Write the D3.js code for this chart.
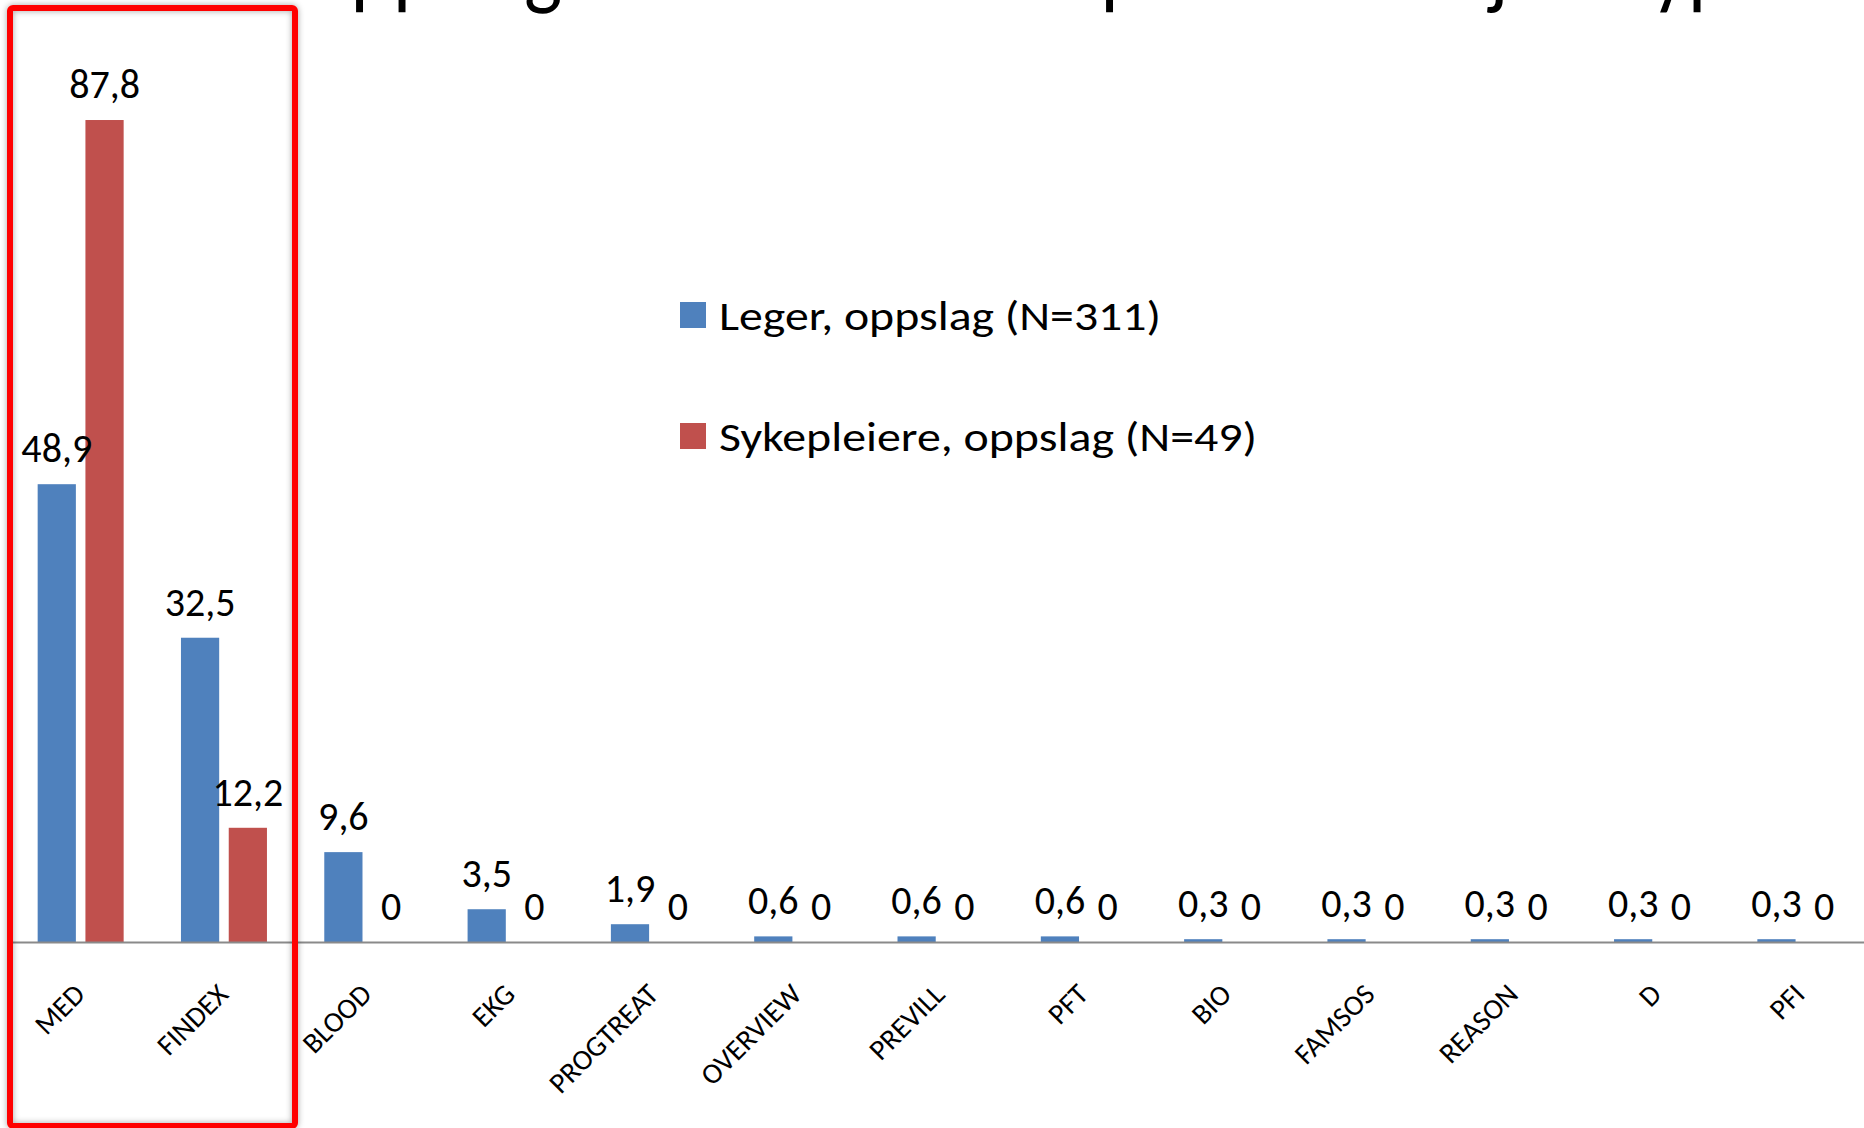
<!DOCTYPE html>
<html>
<head>
<meta charset="utf-8">
<script src="https://cdn.jsdelivr.net/npm/d3@7"></script>
<style>
  html, body { margin: 0; padding: 0; background: #ffffff; }
  svg { display: block; }
  text { font-family: Carlito, Lato, "Open Sans", sans-serif; fill: #000; }
</style>
</head>
<body>
<svg id="chart" width="1864" height="1128"></svg>
<script>
const titleText = "Oppslag i kurven fordelt på informasjonstyper";
const categories = ["MED", "FINDEX", "BLOOD", "EKG", "PROGTREAT", "OVERVIEW", "PREVILL", "PFT", "BIO", "FAMSOS", "REASON", "D", "PFI"];
const seriesNames = ["Leger, oppslag (N=311)", "Sykepleiere, oppslag (N=49)"];
const legerValues = [48.9, 32.5, 9.6, 3.5, 1.9, 0.6, 0.6, 0.6, 0.3, 0.3, 0.3, 0.3, 0.3];
const sykepleiereValues = [87.8, 12.2, 0, 0, 0, 0, 0, 0, 0, 0, 0, 0, 0];
const seriesColors = ["#4F81BD", "#C0504D"];

const svg = d3.select("#chart");
const W = 1864, H = 1128;
svg.append("rect").attr("width", W).attr("height", H).attr("fill", "#fff");

// shadow filter for red highlight frame
const defs = svg.append("defs");
const f = defs.append("filter").attr("id", "shadow").attr("x", "-10%").attr("y", "-10%").attr("width", "120%").attr("height", "120%");
f.append("feGaussianBlur").attr("in", "SourceAlpha").attr("stdDeviation", 3).attr("result", "b");
f.append("feFlood").attr("flood-color", "#000").attr("flood-opacity", 0.35).attr("result", "c");
f.append("feComposite").attr("in", "c").attr("in2", "b").attr("operator", "in").attr("result", "s");
const fm = f.append("feMerge");
fm.append("feMergeNode").attr("in", "s");
fm.append("feMergeNode").attr("in", "SourceGraphic");

// Title (cut off at top, as in the original slide)
svg.append("text")
  .attr("x", 297).attr("y", -3)
  .attr("font-size", 92)
  .attr("textLength", 1502).attr("lengthAdjust", "spacingAndGlyphs")
  .text(titleText);

const baseY = 942;
const x0 = d3.scaleBand().domain(categories).range([9, 1872]).paddingInner(0.4).paddingOuter(0.2);
const x1 = d3.scaleBand().domain([0, 1]).range([0, x0.bandwidth()]).paddingInner(0.2);
const y = d3.scaleLinear().domain([0, 100]).range([baseY, baseY - 936.2]);

const data = categories.map((c, i) => ({ cat: c, vals: [legerValues[i], sykepleiereValues[i]] }));

const fmt = v => v === 0 ? "0" : d3.format(".1f")(v).replace(".", ",");

const groups = svg.append("g").selectAll("g").data(data).join("g")
  .attr("transform", d => `translate(${x0(d.cat)},0)`);

groups.selectAll("rect").data(d => d.vals.map((v, s) => ({ v, s }))).join("rect")
  .attr("x", d => x1(d.s))
  .attr("width", x1.bandwidth())
  .attr("y", d => y(d.v))
  .attr("height", d => baseY - y(d.v))
  .attr("fill", d => seriesColors[d.s]);

// Axis
const axis = svg.append("g").attr("transform", `translate(0,${baseY})`)
  .call(d3.axisBottom(x0).tickSize(0).tickSizeOuter(0));
axis.select(".domain").attr("stroke", "#8a8a8a").attr("stroke-width", 2);
axis.selectAll(".tick text")
  .attr("x", 0).attr("y", 0).attr("dy", null)
  .attr("text-anchor", "end")
  .attr("transform", "translate(6,54) rotate(-45)")
  .attr("font-size", 29)
  .attr("font-family", "Carlito, Lato, sans-serif")
  .attr("fill", "#000");

// Data labels
groups.selectAll("text.val").data(d => d.vals.map((v, s) => ({ v, s }))).join("text")
  .attr("class", "val")
  .attr("x", d => x1(d.s) + x1.bandwidth() / 2)
  .attr("y", d => y(d.v) - 22)
  .attr("text-anchor", "middle")
  .attr("font-size", 40)
  .text(d => fmt(d.v));

// Legend
const legend = svg.append("g");
const legendY = [315, 436];
seriesNames.forEach((name, i) => {
  legend.append("rect").attr("x", 680).attr("y", legendY[i] - 13).attr("width", 26).attr("height", 26).attr("fill", seriesColors[i]);
  legend.append("text").attr("x", 719).attr("y", legendY[i] + 15)
    .attr("font-size", 42)
    .attr("textLength", i === 0 ? 442 : 538).attr("lengthAdjust", "spacingAndGlyphs")
    .text(name);
});

// Red highlight frame
svg.append("rect")
  .attr("x", 10).attr("y", 8).attr("width", 285).attr("height", 1118)
  .attr("rx", 3)
  .attr("fill", "none").attr("stroke", "#ff0000").attr("stroke-width", 6)
  .attr("filter", "url(#shadow)");
</script>
</body>
</html>
